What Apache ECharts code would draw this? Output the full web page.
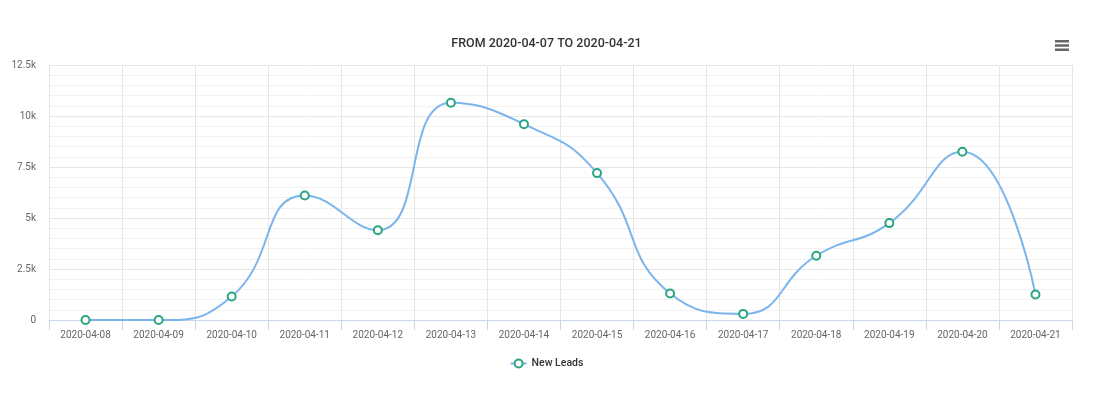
<!DOCTYPE html>
<html>
<head>
<meta charset="utf-8">
<script src="https://cdn.jsdelivr.net/npm/echarts@6/dist/echarts.min.js"></script>
<style>
html,body{margin:0;padding:0;background:#fff;}
#chart{width:1093px;height:396px;}
</style>
</head>
<body>
<div id="chart"></div>
<script>
const titleText = 'FROM 2020-04-07 TO 2020-04-21';
const categories = ['2020-04-08','2020-04-09','2020-04-10','2020-04-11','2020-04-12','2020-04-13','2020-04-14','2020-04-15','2020-04-16','2020-04-17','2020-04-18','2020-04-19','2020-04-20','2020-04-21'];
const newLeads = [0, 0, 1150, 6100, 4400, 10650, 9600, 7200, 1300, 300, 3150, 4750, 8250, 1250];
const seriesName = 'New Leads';
const yTicks = [0, 2500, 5000, 7500, 10000, 12500];

const FONT = 'Roboto, sans-serif';
const chart = echarts.init(document.getElementById('chart'));
chart.setOption({
  animation: false,
  title: {
    text: titleText, left: 'center', top: 32,
    textStyle: {fontFamily: FONT, fontSize: 12.5, fontWeight: 500, color: '#333'}
  },
  toolbox: {
    right: 24, top: 40, itemSize: 14, padding: 0,
    iconStyle: {color: '#666', borderColor: '#666', borderWidth: 0},
    feature: {
      myMenu: {
        show: true, title: '',
        icon: 'path://M0,0h14v2.4h-14z M0,4.3h14v2.4h-14z M0,8.6h14v2.4h-14z',
        onclick: function(){}
      }
    }
  },
  legend: {
    bottom: 22, left: 'center', itemWidth: 16, itemHeight: 10, itemGap: 20,
    textStyle: {fontFamily: FONT, fontSize: 10.5, fontWeight: 500, color: '#333'},
    data: [seriesName]
  },
  grid: {left: 49, right: 21, top: 65, bottom: 76},
  xAxis: {
    type: 'category', data: categories, boundaryGap: true,
    axisLine: {show: true, lineStyle: {color: '#ccd6eb', width: 1}},
    axisTick: {show: true, length: 10, interval: 0, lineStyle: {color: '#ccd6eb'}},
    axisLabel: {interval: 0, fontFamily: FONT, fontSize: 10, color: '#666', margin: 10},
    splitLine: {show: true, interval: 0, lineStyle: {color: '#e6e6e6', width: 1}}
  },
  yAxis: {
    type: 'value', min: yTicks[0], max: yTicks[yTicks.length-1], interval: 2500,
    axisLine: {show: false}, axisTick: {show: false},
    axisLabel: {
      fontFamily: FONT, fontSize: 10, color: '#666', margin: 13,
      formatter: function(v){ return v === 0 ? '0' : (v/1000) + 'k'; }
    },
    splitLine: {show: true, lineStyle: {color: '#e6e6e6', width: 1}},
    minorTick: {show: false, splitNumber: 5},
    minorSplitLine: {show: true, lineStyle: {color: '#f2f2f2', width: 1}}
  },
  series: [{
    name: seriesName, type: 'line', data: newLeads, smooth: 0.5,
    symbol: 'circle', symbolSize: 8, showSymbol: true,
    lineStyle: {color: '#7cb5ec', width: 2},
    itemStyle: {color: '#fff', borderColor: '#2ba584', borderWidth: 2}
  }]
});
</script>
</body>
</html>
